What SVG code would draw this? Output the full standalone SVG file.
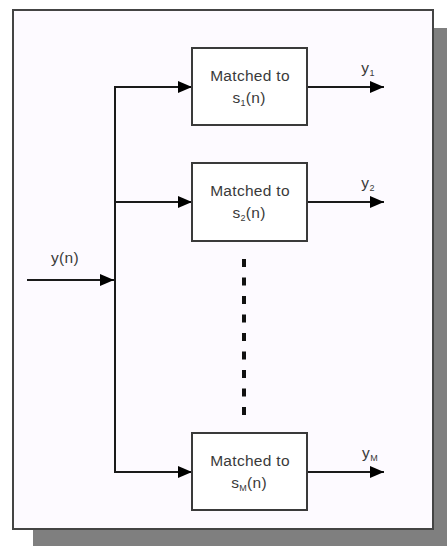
<svg xmlns="http://www.w3.org/2000/svg" width="447" height="546" viewBox="0 0 447 546">
<defs>
<style>
.box{fill:#ffffff;stroke:#3a3a3a;stroke-width:2}
.ln{fill:none;stroke:#1a1a1a;stroke-width:2}
.t{font-family:"Liberation Sans",Arial,sans-serif;font-size:15.5px;fill:#3a3a3a;text-anchor:middle;letter-spacing:0.3px}
.sub{font-size:9px}
</style>
<marker id="ah" viewBox="0 0 14 12" refX="14" refY="6" markerWidth="14" markerHeight="12" markerUnits="userSpaceOnUse" orient="auto">
<path d="M0,0 L14,6 L0,12 z" fill="#000"/>
</marker>
</defs>
<rect width="447" height="546" fill="#ffffff"/>
<rect x="33" y="28" width="414" height="518" fill="#7f7f7f"/>
<rect x="13" y="10" width="420" height="519" fill="#fdfaff" stroke="#444" stroke-width="2"/>
<g id="connectors">
<line class="ln" x1="27" y1="280" x2="114" y2="280" marker-end="url(#ah)"/>
<polyline class="ln" points="191,87 115,87 115,472 191,472"/>
<line class="ln" x1="115" y1="87" x2="192" y2="87" marker-end="url(#ah)"/>
<line class="ln" x1="115" y1="202" x2="192" y2="202" marker-end="url(#ah)"/>
<line class="ln" x1="115" y1="472" x2="192" y2="472" marker-end="url(#ah)"/>
<line class="ln" x1="307" y1="87" x2="384" y2="87" marker-end="url(#ah)"/>
<line class="ln" x1="307" y1="202" x2="384" y2="202" marker-end="url(#ah)"/>
<line class="ln" x1="307" y1="472" x2="384" y2="472" marker-end="url(#ah)"/>
<line x1="244" y1="259" x2="244" y2="415" stroke="#111" stroke-width="4" stroke-dasharray="8 10.5"/>
</g>
<g id="input-label"><text class="t" x="65" y="263">y(n)</text></g>
<g id="mf1">
<rect class="box" x="192" y="48" width="115" height="77"/>
<text class="t" x="250" y="81">Matched to</text>
<text class="t" x="249" y="103">s<tspan class="sub" dy="3">1</tspan><tspan dy="-3">(n)</tspan></text>
</g>
<g id="mf2">
<rect class="box" x="192" y="163" width="115" height="78"/>
<text class="t" x="250" y="196">Matched to</text>
<text class="t" x="249" y="218">s<tspan class="sub" dy="3">2</tspan><tspan dy="-3">(n)</tspan></text>
</g>
<g id="mfM">
<rect class="box" x="192" y="433" width="115" height="77"/>
<text class="t" x="250" y="466">Matched to</text>
<text class="t" x="249" y="488">s<tspan class="sub" dy="3">M</tspan><tspan dy="-3">(n)</tspan></text>
</g>
<g id="out1"><text class="t" x="368" y="73">y<tspan class="sub" dy="3">1</tspan></text></g>
<g id="out2"><text class="t" x="368" y="188">y<tspan class="sub" dy="3">2</tspan></text></g>
<g id="outM"><text class="t" x="370" y="458">y<tspan class="sub" dy="3">M</tspan></text></g>
</svg>
